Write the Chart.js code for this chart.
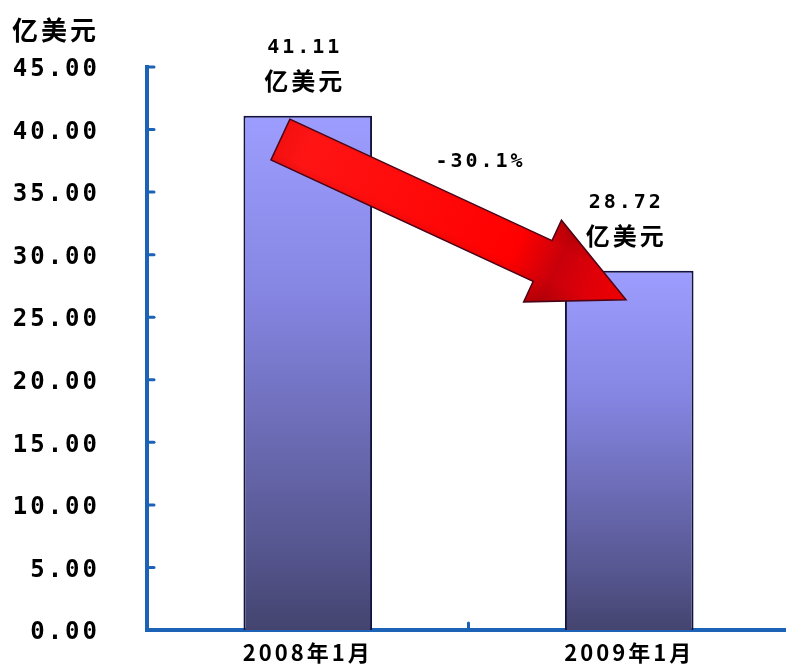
<!DOCTYPE html>
<html>
<head>
<meta charset="utf-8">
<script src="https://cdn.jsdelivr.net/npm/chart.js@4/dist/chart.umd.min.js"></script>
<style>
  html, body { margin: 0; padding: 0; background: #fff; overflow: hidden; }
  canvas { display: block; }
</style>
</head>
<body>
<canvas id="chart" width="790" height="664"></canvas>
<script>
// Export value by month (unit: 亿美元)
const categories = ['2008年1月', '2009年1月'];
const exportValues = [41.11, 28.72];
const yTicks = [0, 5, 10, 15, 20, 25, 30, 35, 40, 45];
const unitLabel = '亿美元';
const changeLabel = '-30.1%';

// arrow runs from near the top of the first bar down to the second
const arrowFrom = { index: -0.085, value: 39.2 };
const arrowTo = { index: 0.99, value: 26.4 };

const AXIS_BLUE = '#1c63b7';
const MONO = 'DejaVu Sans Mono';
const CJK = 'Noto Sans CJK SC';

function setSpacing(chart) {
  chart.ctx.letterSpacing = '3px';
}

// vertical gradient per bar, light on top and dark at the base
function barFill(context) {
  const chart = context.chart;
  const { ctx, chartArea, scales } = chart;
  if (!chartArea || !scales.y) return '#8a8aee';
  const top = scales.y.getPixelForValue(context.raw);
  const bottom = scales.y.getPixelForValue(0);
  const g = ctx.createLinearGradient(0, top, 0, bottom);
  g.addColorStop(0, '#9d9dff');
  g.addColorStop(0.35, '#8585e2');
  g.addColorStop(0.85, '#55558e');
  g.addColorStop(1, '#44446f');
  return g;
}

const spacingPlugin = {
  id: 'spacing',
  beforeInit: setSpacing,
  beforeUpdate: setSpacing,
  beforeLayout: setSpacing,
  beforeDraw: setSpacing
};

const decorPlugin = {
  id: 'decor',
  afterDatasetsDraw(chart) {
    const { ctx, scales } = chart;
    const xs = scales.x, ys = scales.y;

    // red block arrow
    const tail = { x: xs.getPixelForValue(arrowFrom.index), y: ys.getPixelForValue(arrowFrom.value) };
    const tip = { x: xs.getPixelForValue(arrowTo.index), y: ys.getPixelForValue(arrowTo.value) };
    const dx = tip.x - tail.x, dy = tip.y - tail.y;
    const len = Math.hypot(dx, dy);
    const u = { x: dx / len, y: dy / len };
    const n = { x: -u.y, y: u.x };
    const shaft = 22.5, head = 45, headLen = 92;
    const neck = { x: tip.x - u.x * headLen, y: tip.y - u.y * headLen };
    const p = (o, k) => [o.x + n.x * k, o.y + n.y * k];
    const pts = [p(tail, -shaft), p(neck, -shaft), p(neck, -head), [tip.x, tip.y],
                 p(neck, head), p(neck, shaft), p(tail, shaft)];

    ctx.save();
    ctx.beginPath();
    pts.forEach((pt, i) => i ? ctx.lineTo(pt[0], pt[1]) : ctx.moveTo(pt[0], pt[1]));
    ctx.closePath();
    const g = ctx.createLinearGradient(tail.x, tail.y, tip.x, tip.y);
    g.addColorStop(0, '#f41010');
    g.addColorStop(0.08, '#ff1414');
    g.addColorStop(0.68, '#ff0000');
    g.addColorStop(0.8, '#c8000a');
    g.addColorStop(0.9, '#e00008');
    g.addColorStop(1, '#f00000');
    ctx.fillStyle = g;
    ctx.fill();
    // slight shading along the edges
    const s = ctx.createLinearGradient(...p(tail, -head), ...p(tail, head));
    s.addColorStop(0, 'rgba(120,0,0,0.35)');
    s.addColorStop(0.3, 'rgba(120,0,0,0)');
    s.addColorStop(0.65, 'rgba(120,0,0,0)');
    s.addColorStop(1, 'rgba(110,0,0,0.35)');
    ctx.fillStyle = s;
    ctx.fill();
    ctx.lineWidth = 1.5;
    ctx.strokeStyle = '#4a0418';
    ctx.stroke();
    ctx.restore();
  },
  afterDraw(chart) {
    const { ctx, scales, chartArea } = chart;
    const xs = scales.x, ys = scales.y;
    ctx.save();
    ctx.letterSpacing = '3px';

    // inward tick marks on both axes
    ctx.strokeStyle = AXIS_BLUE;
    ctx.lineWidth = 3;
    ctx.lineCap = 'round';
    yTicks.forEach(v => {
      const y = ys.getPixelForValue(v);
      if (v === 0) return;
      ctx.beginPath();
      ctx.moveTo(chartArea.left, y);
      ctx.lineTo(chartArea.left + 7, y);
      ctx.stroke();
    });
    const mid = xs.getPixelForValue(0.5);
    ctx.beginPath();
    ctx.moveTo(mid, chartArea.bottom);
    ctx.lineTo(mid, chartArea.bottom - 7);
    ctx.stroke();

    ctx.fillStyle = '#000';
    ctx.textBaseline = 'middle';

    // unit in the top-left corner
    ctx.textAlign = 'left';
    ctx.font = 'bold 26px "' + CJK + '"';
    ctx.fillText(unitLabel, 12, 30);

    // value labels above the bars
    ctx.textAlign = 'center';
    exportValues.forEach((v, i) => {
      const x = xs.getPixelForValue(i) - 3;
      const y = ys.getPixelForValue(v);
      ctx.font = 'bold 20px "' + MONO + '"';
      ctx.fillText(v.toFixed(2), x, y - 68);
      ctx.font = 'bold 24px "' + CJK + '"';
      ctx.fillText(unitLabel, x, y - 35);
    });

    // change between the two months
    ctx.font = 'bold 20px "' + MONO + '"';
    ctx.fillText(changeLabel, xs.getPixelForValue(0.5) + 12, ys.getPixelForValue(37.4));
    ctx.restore();
  }
};

new Chart(document.getElementById('chart'), {
  type: 'bar',
  data: {
    labels: categories,
    datasets: [{
      data: exportValues,
      backgroundColor: barFill,
      borderColor: '#121240',
      borderWidth: 2,
      barPercentage: 0.4,
      categoryPercentage: 1
    }]
  },
  options: {
    responsive: false,
    animation: false,
    layout: { padding: { top: 67, left: 0, right: 0, bottom: 0 } },
    plugins: {
      legend: { display: false },
      tooltip: { enabled: false }
    },
    scales: {
      x: {
        grid: { display: false, drawTicks: false },
        border: { display: true, color: AXIS_BLUE, width: 4 },
        ticks: {
          color: '#000',
          padding: 9,
          font: { family: CJK, weight: 'bold', size: 22 }
        },
        afterFit(scale) { scale.height = 34; }
      },
      y: {
        min: 0,
        max: 45,
        grid: { display: false, drawTicks: false },
        border: { display: true, color: AXIS_BLUE, width: 4 },
        afterBuildTicks(scale) { scale.ticks = yTicks.map(v => ({ value: v })); },
        afterFit(scale) {
          scale.width = 147;
          scale.paddingTop = 0;
          scale.paddingBottom = 0;
        },
        ticks: {
          color: '#000',
          padding: 47,
          labelOffset: 3,
          font: { family: MONO, weight: 'bold', size: 24 },
          callback: v => Number(v).toFixed(2)
        }
      }
    }
  },
  plugins: [spacingPlugin, decorPlugin]
});
</script>
</body>
</html>
